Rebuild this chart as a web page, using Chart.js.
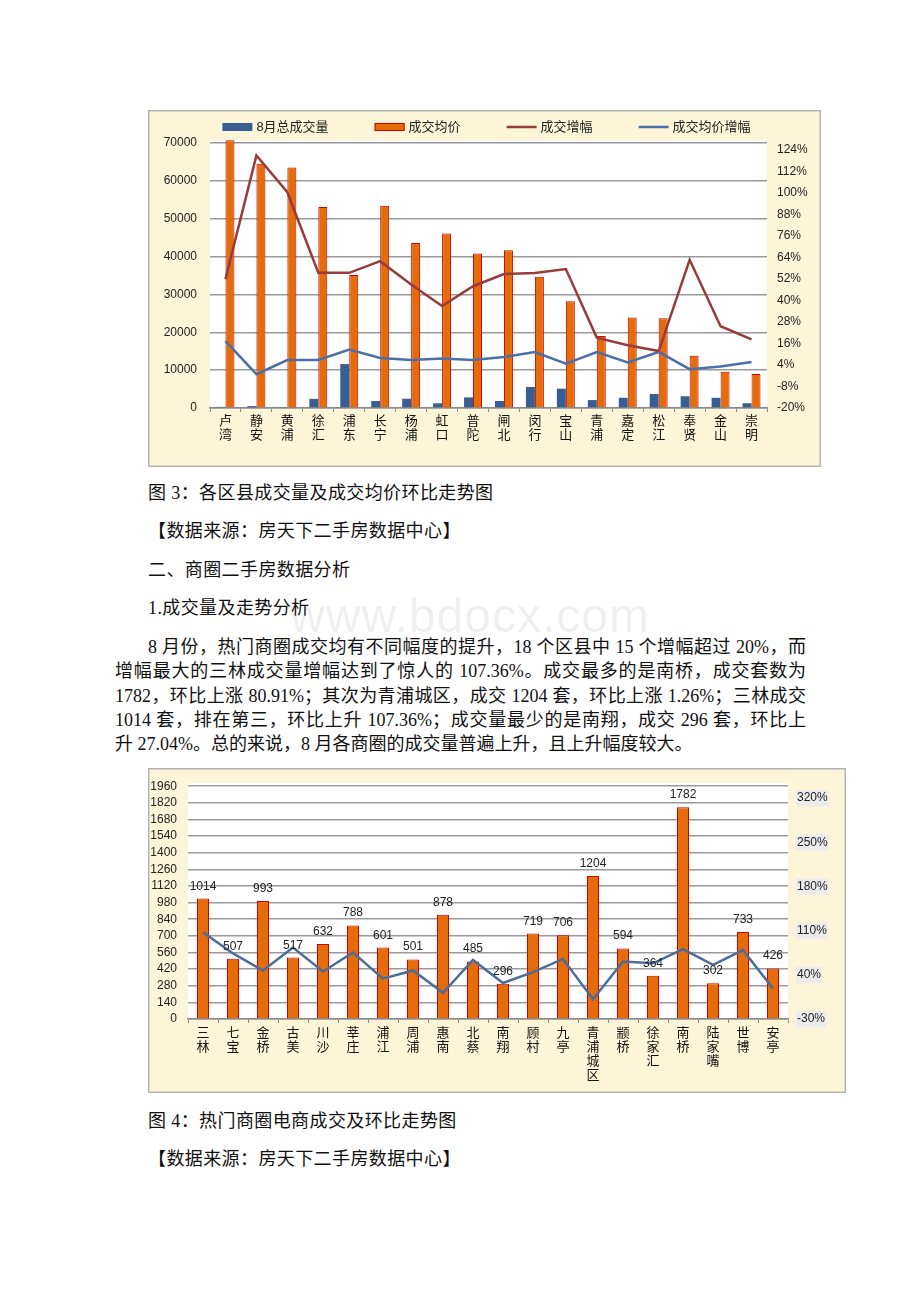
<!DOCTYPE html>
<html>
<head>
<meta charset="utf-8">
<script src="https://cdn.jsdelivr.net/npm/chart.js@4.4.1/dist/chart.umd.min.js"></script>
<style>
html,body{margin:0;padding:0;background:#fff;}
body{width:920px;height:1302px;position:relative;overflow:hidden;font-family:"Liberation Serif","Noto Sans CJK SC",serif;color:#111;}
.t{position:absolute;left:148px;font-size:18px;line-height:24px;white-space:nowrap;letter-spacing:0.4px;}
.box{position:absolute;}
#para{position:absolute;left:115px;top:635px;width:691px;font-size:18px;line-height:24.3px;}
#para div{text-align:justify;text-align-last:justify;}
#para div.first{padding-left:33px;}
#para div.last{text-align-last:left;}
#wm{position:absolute;left:0;width:940px;top:588px;text-align:center;font-family:"Liberation Sans",sans-serif;font-size:48px;color:rgba(0,0,0,0.07);letter-spacing:1px;}
</style>
</head>
<body>

<div class="box" style="left:148px;top:110px;width:673px;height:357px;"><canvas id="districtChart"></canvas></div>

<div class="t" style="top:481px;">图 3：各区县成交量及成交均价环比走势图</div>
<div class="t" style="top:519px;">【数据来源：房天下二手房数据中心】</div>
<div class="t" style="top:558px;">二、商圈二手房数据分析</div>
<div class="t" style="top:596px;">1.成交量及走势分析</div>

<div id="para">
  <div class="first">8 月份，热门商圈成交均有不同幅度的提升，18 个区县中 15 个增幅超过 20%，而</div>
  <div>增幅最大的三林成交量增幅达到了惊人的 107.36%。成交最多的是南桥，成交套数为</div>
  <div>1782，环比上涨 80.91%；其次为青浦城区，成交 1204 套，环比上涨 1.26%；三林成交</div>
  <div>1014 套，排在第三，环比上升 107.36%；成交量最少的是南翔，成交 296 套，环比上</div>
  <div class="last">升 27.04%。总的来说，8 月各商圈的成交量普遍上升，且上升幅度较大。</div>
</div>

<div id="wm">www.bdocx.com</div>

<div class="box" style="left:148px;top:768px;width:698px;height:325px;"><canvas id="circleChart"></canvas></div>

<div class="t" style="top:1109px;">图 4：热门商圈电商成交及环比走势图</div>
<div class="t" style="top:1147px;">【数据来源：房天下二手房数据中心】</div>

<script>
// ---- chart 1: districts ----
const districts = ['卢湾','静安','黄浦','徐汇','浦东','长宁','杨浦','虹口','普陀','闸北','闵行','宝山','青浦','嘉定','松江','奉贤','金山','崇明'];
const augVolume = [300,500,250,2400,11600,1850,2450,1250,2800,1850,5550,5100,2100,2700,3700,3100,2700,1250];
const avgPrice = [70700,64500,63500,53100,35100,53400,43600,46100,40800,41700,34700,28200,19000,23900,23700,13800,9600,9000];
const volumeGrowth = [52,121,100.5,55.5,55.5,62,49,37,48,54.8,55.4,57.6,19.3,15,11.8,62.8,25.7,18.3];
const priceGrowth = [17.4,-1.1,6.8,6.8,12.6,7.9,6.8,7.6,6.8,8.5,11.3,4.8,11.3,5.4,11.3,1.7,3.2,5.7];
const priceTicks = [0,10000,20000,30000,40000,50000,60000,70000];
const growthTicks1 = [-20,-8,4,16,28,40,52,64,76,88,100,112,124];

// ---- chart 2: business circles ----
const circles = ['三林','七宝','金桥','古美','川沙','莘庄','浦江','周浦','惠南','北蔡','南翔','顾村','九亭','青浦城区','颛桥','徐家汇','南桥','陆家嘴','世博','安亭'];
const deals = [1014,507,993,517,632,788,601,501,878,485,296,719,706,1204,594,364,1782,302,733,426];
const dealGrowth = [107.36,73.9,46.9,83.3,45.3,75.5,34,46.9,11.5,63.6,27.04,44.3,65.2,1.26,61,58.3,80.91,55.8,79.2,18.4];
const dealTicks = [0,140,280,420,560,700,840,980,1120,1260,1400,1540,1680,1820,1960];
const growthTicks2 = [-30,40,110,180,250,320];

const NUM_FONT = '"Liberation Sans","Noto Sans CJK SC",sans-serif';
const CJK_FONT = '"Noto Sans CJK SC",sans-serif';

// cream frame + white plot area
const frame = {
  id:'frame',
  beforeDraw(chart){
    const {ctx, chartArea:a, width, height} = chart;
    ctx.save();
    ctx.fillStyle = '#fdf5d7';
    ctx.fillRect(0,0,width,height);
    ctx.strokeStyle = '#b4b4b4';
    ctx.lineWidth = 1.5;
    ctx.strokeRect(0.75,0.75,width-1.5,height-1.5);
    ctx.fillStyle = '#fff';
    ctx.fillRect(a.left, a.top-3, a.right-a.left, a.bottom-a.top+3);
    ctx.restore();
  }
};

// single row legend at the top
const legendRow = {
  id:'legendRow',
  afterDraw(chart){
    const ctx = chart.ctx;
    ctx.save();
    ctx.font = '13px ' + NUM_FONT;
    const items = chart.data.datasets.map(ds => ({ds, w: 34 + ctx.measureText(ds.label).width}));
    const gap = 46;
    const total = items.reduce((s,it)=>s+it.w,0) + gap*(items.length-1);
    let x = (chart.width - total)/2 + 2;
    const y = 17;
    items.forEach(it=>{
      const ds = it.ds;
      if(ds.type === 'line'){
        ctx.strokeStyle = ds.borderColor; ctx.lineWidth = 2.5;
        ctx.beginPath(); ctx.moveTo(x, y); ctx.lineTo(x+30, y); ctx.stroke();
      } else {
        ctx.fillStyle = ds.backgroundColor;
        ctx.fillRect(x, y-4, 30, 8);
        if(ds.borderWidth){
          ctx.strokeStyle = ds.borderColor; ctx.lineWidth = 1;
          ctx.strokeRect(x+0.5, y-3.5, 29, 7);
        }
      }
      ctx.fillStyle = '#222';
      ctx.textBaseline = 'middle';
      ctx.fillText(ds.label, x+34, y);
      x += it.w + gap;
    });
    ctx.restore();
  }
};

// value labels over bars
const barValues = {
  id:'barValues',
  afterDatasetsDraw(chart){
    const ctx = chart.ctx;
    ctx.save();
    ctx.font = '12px ' + NUM_FONT;
    ctx.fillStyle = '#222';
    ctx.textAlign = 'center';
    ctx.textBaseline = 'alphabetic';
    chart.data.datasets.forEach((ds, i)=>{
      if(ds.type !== 'bar') return;
      chart.getDatasetMeta(i).data.forEach((bar, j)=>{
        ctx.fillText(String(ds.data[j]), bar.x, bar.y - 9);
      });
    });
    ctx.restore();
  }
};

function fixedTicks(list){
  return scale => { scale.ticks = list.map(v => ({value:v})); };
}

new Chart(document.getElementById('districtChart'), {
  data:{
    labels: districts.map(s => s.split('')),
    datasets:[
      {type:'bar', label:'8月总成交量', data:augVolume, yAxisID:'y', backgroundColor:'#375f93', borderWidth:0, order:1,
        categoryPercentage:0.58, barPercentage:1},
      {type:'bar', label:'成交均价', data:avgPrice, yAxisID:'y', backgroundColor:'#e46c0a', borderColor:'#d60000', borderWidth:1, order:1,
        categoryPercentage:0.58, barPercentage:1, clip:false},
      {type:'line', label:'成交增幅', data:volumeGrowth, yAxisID:'y1', borderColor:'#973c3a', borderWidth:2.5, pointRadius:0, tension:0, order:0},
      {type:'line', label:'成交均价增幅', data:priceGrowth, yAxisID:'y1', borderColor:'#4a70a6', borderWidth:2.5, pointRadius:0, tension:0, order:0}
    ]
  },
  options:{
    responsive:true, maintainAspectRatio:false, animation:false,
    layout:{padding:{top:33,left:0,right:0,bottom:0}},
    plugins:{legend:{display:false}, tooltip:{enabled:false}},
    scales:{
      x:{
        offset:true,
        grid:{display:true, offset:true, drawOnChartArea:false, drawTicks:true, tickLength:4, color:'#888'},
        border:{display:true, color:'#8a8a8a', width:1.5},
        ticks:{autoSkip:false, maxRotation:0, minRotation:0, padding:1, color:'#111',
          font:{family:CJK_FONT, size:13, lineHeight:1.08}},
        afterFit: s => { s.height = 59; }
      },
      y:{
        position:'left', min:0, max:70000,
        afterBuildTicks: fixedTicks(priceTicks),
        grid:{color:'#9a9a9a', lineWidth:1.5, drawTicks:false},
        border:{display:false},
        ticks:{autoSkip:false, padding:13, color:'#222', font:{family:NUM_FONT, size:12}, callback: v => String(v)},
        afterFit: s => { s.width = 62; }
      },
      y1:{
        position:'right', min:-20, max:128,
        afterBuildTicks: fixedTicks(growthTicks1),
        grid:{display:false, drawTicks:false},
        border:{display:false},
        ticks:{autoSkip:false, padding:10, color:'#222', font:{family:NUM_FONT, size:12}, callback: v => v + '%'},
        afterFit: s => { s.width = 54; }
      }
    }
  },
  plugins:[frame, legendRow]
});

new Chart(document.getElementById('circleChart'), {
  data:{
    labels: circles.map(s => s.split('')),
    datasets:[
      {type:'bar', label:'成交量', data:deals, yAxisID:'y', backgroundColor:'#e46c0a', borderColor:'#d60000', borderWidth:1, order:1,
        categoryPercentage:0.4, barPercentage:1},
      {type:'line', label:'环比', data:dealGrowth, yAxisID:'y1', borderColor:'#4a6d9c', borderWidth:2.5, pointRadius:0, tension:0, order:0}
    ]
  },
  options:{
    responsive:true, maintainAspectRatio:false, animation:false,
    layout:{padding:{top:15,left:0,right:0,bottom:0}},
    plugins:{legend:{display:false}, tooltip:{enabled:false}},
    scales:{
      x:{
        offset:true,
        grid:{display:true, offset:true, drawOnChartArea:false, drawTicks:true, tickLength:4, color:'#888'},
        border:{display:true, color:'#8a8a8a', width:1.5},
        ticks:{autoSkip:false, maxRotation:0, minRotation:0, padding:2, color:'#111',
          font:{family:CJK_FONT, size:13, lineHeight:1.08}},
        afterFit: s => { s.height = 74; }
      },
      y:{
        position:'left', min:0, max:1960,
        afterBuildTicks: fixedTicks(dealTicks),
        grid:{color:'#9a9a9a', lineWidth:1.5, drawTicks:false},
        border:{display:false},
        ticks:{autoSkip:false, padding:11, color:'#222', font:{family:NUM_FONT, size:12}, callback: v => String(v)},
        afterFit: s => { s.width = 40; }
      },
      y1:{
        position:'right', min:-30, max:339,
        afterBuildTicks: fixedTicks(growthTicks2),
        grid:{display:false, drawTicks:false},
        border:{display:false},
        ticks:{autoSkip:false, padding:9, color:'#222', font:{family:NUM_FONT, size:12}, callback: v => v + '%',
          showLabelBackdrop:true, backdropColor:'#ececec', backdropPadding:{x:1,y:1}},
        afterFit: s => { s.width = 58; }
      }
    }
  },
  plugins:[frame, barValues]
});
</script>
</body>
</html>
